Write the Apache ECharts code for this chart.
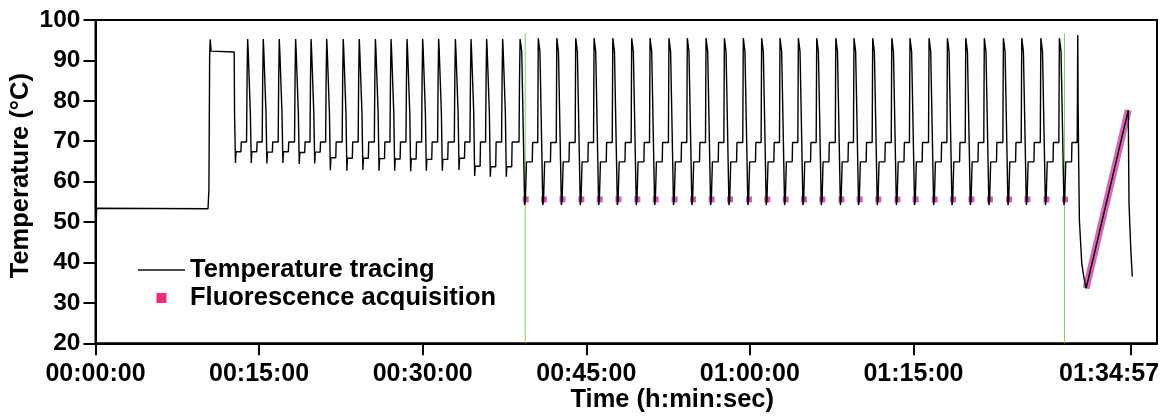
<!DOCTYPE html>
<html>
<head>
<meta charset="utf-8">
<script src="https://cdn.jsdelivr.net/npm/echarts@6/dist/echarts.min.js"></script>
<style>
  html, body { margin: 0; padding: 0; background: #fff; }
  #chart { width: 1166px; height: 416px; }
</style>
</head>
<body>
<div id="chart"></div>
<script>
// Thermal cycler run: block temperature trace with the fluorescence read points.
// Times are seconds from the start of the run, temperatures in °C.

const FONT = '"Liberation Sans", Arial, Helvetica, sans-serif';

// x-axis tick positions (s): every 15 min plus the end of the run
const xTickSeconds = [0, 900, 1800, 2700, 3600, 4500, 5697];

// Initial 53 °C hold, then the 92 °C activation step
const holdTimes = [0, 3, 6, 619, 624, 628, 631, 636, 763];
const holdTemps = [55.6, 47.5, 53.4, 53.3, 58, 91, 95.2, 92.3, 92.1];

// Stage 1 (touchdown), 18 cycles: denaturation peak time, undershoot, annealing plateau
const touchdownPeaks = [837, 923, 1011, 1101, 1186, 1272, 1363, 1451, 1540, 1626, 1714, 1800, 1888, 1980, 2066, 2152, 2240, 2336];
const touchdownMin = [64.6, 64.6, 64.5, 64.6, 64.4, 64.5, 62.8, 62.7, 62.9, 62.7, 62.7, 62.6, 62.7, 62.7, 62.9, 61.4, 61.2, 61.2];
const touchdownAnneal = [67.4, 67.4, 67.3, 67.4, 67.2, 67.3, 65.9, 65.8, 65.8, 65.7, 65.6, 65.6, 65.5, 65.5, 65.8, 63.8, 63.7, 63.7];

// Stage 2, 30 cycles: denaturation peak time and peak temperature
const cyclePeaks = [2436, 2538, 2642, 2743, 2846, 2950, 3051, 3155, 3256, 3359, 3460, 3564, 3665, 3766, 3867, 3968, 4073, 4173, 4276, 4381, 4481, 4586, 4687, 4788, 4890, 4995, 5096, 5201, 5303, 5404];
const cyclePeakTemps = [95.5, 95.5, 95.5, 95.5, 95.5, 95.5, 95.5, 95.5, 95.5, 95.5, 95.5, 95.5, 95.5, 95.5, 95.5, 95.5, 95.5, 95.5, 95.5, 95.5, 95.5, 95.5, 95.5, 95.5, 95.5, 95.5, 95.5, 95.5, 95.5, 96.3];

// Fluorescence reads at the end of each 55 °C annealing step
const readTimes = [2367, 2467, 2569, 2673, 2774, 2877, 2981, 3082, 3186, 3287, 3390, 3491, 3595, 3696, 3797, 3898, 3999, 4104, 4204, 4307, 4412, 4512, 4617, 4718, 4819, 4921, 5026, 5127, 5232, 5334];
const readTemps = [55.6, 55.6, 55.6, 55.6, 55.6, 55.6, 55.6, 55.6, 55.6, 55.6, 55.6, 55.6, 55.6, 55.6, 55.6, 55.6, 55.6, 55.6, 55.6, 55.6, 55.6, 55.6, 55.6, 55.6, 55.6, 55.6, 55.6, 55.6, 55.6, 55.6];

// Cool-down, melt ramp and final cool-down
const meltTimes = [5406, 5409, 5413, 5426, 5439, 5450, 5682, 5684, 5686, 5696, 5704];
const meltTemps = [79.4, 65.0, 50.5, 39.8, 36.0, 33.6, 77.7, 65.0, 54.6, 43.0, 36.5];
// Continuous acquisition along the melt ramp
const meltReadTimes = [5450, 5682];
const meltReadTemps = [33.6, 77.7];

// Start and end of the acquisition window
const windowTimes = [2364, 5331];
const windowTemps = [20, 96.7];

// ---- assemble the temperature trace ----
const trace = [];
function add(t, v) {
  if (!trace.length || t > trace[trace.length - 1][0]) trace.push([t, v]);
}
holdTimes.forEach((t, i) => add(t, holdTemps[i]));

touchdownPeaks.forEach((p, i) => {
  const a = touchdownAnneal[i];
  const drop = i === 0 ? holdTimes[holdTimes.length - 1] : touchdownPeaks[i - 1] + 13;
  if (i > 0) add(touchdownPeaks[i - 1] + 3, 92.4);
  add(drop, 92.0);
  add(drop + 2, 77);
  add(drop + 7, touchdownMin[i]);
  add(drop + 10, a);
  add(drop + 37, a);
  add(drop + 39, 69.8);
  add(p - 6, 69.8);
  add(p - 3, 86);
  add(p, 95.3);
});

cyclePeaks.forEach((p, j) => {
  const pp = j === 0 ? touchdownPeaks[touchdownPeaks.length - 1] : cyclePeaks[j - 1];
  add(pp + 9, 92.2);
  add(pp + 14, 80.6);
  add(pp + 25, 54.2);
  add(pp + 29, 55.3);
  add(pp + 33, 55.3);
  add(pp + 35, 64.9);
  add(pp + 67, 64.9);
  add(pp + 69, 69.7);
  add(p - 3, 69.7);
  add(p - 1, 88);
  add(p, cyclePeakTemps[j]);
});

meltTimes.forEach((t, i) => add(t, meltTemps[i]));

const reads = readTimes.map((t, i) => [t, readTemps[i]]);
const meltReads = meltReadTimes.map((t, i) => [t, meltReadTemps[i]]);

function hms(s) {
  const h = Math.floor(s / 3600), m = Math.floor((s % 3600) / 60), sec = Math.round(s % 60);
  return [h, m, sec].map(n => String(n).padStart(2, '0')).join(':');
}

const PINK = '#d24aa8';
// Legend glyphs: a thin rule for the trace and a square centred in the 47 px slot
// (the two hairline corner specks only fix the glyph's bounding box).
const LINE_ICON = 'path://M0 0H47V1.5H0Z';
const SQUARE_ICON = 'path://M0 0h0.01v0.01h-0.01zM46.99 9.99h0.01v0.01h-0.01zM18.5 0h10v10h-10z';

const chart = echarts.init(document.getElementById('chart'), null, { renderer: 'canvas' });

chart.setOption({
  animation: false,
  backgroundColor: '#fff',
  grid: {
    left: 95.5, right: 9, top: 20, bottom: 72.7,
    show: true, borderColor: '#000', borderWidth: 2,
    containLabel: false, outerBoundsMode: 'none'
  },
  legend: {
    orient: 'vertical',
    left: 133, top: 251,
    itemWidth: 47, itemHeight: 10, itemGap: 0,
    selectedMode: false,
    textStyle: { fontFamily: FONT, fontSize: 25.5, fontWeight: 'bold', color: '#000', lineHeight: 28 },
    data: [
      { name: 'Temperature tracing', icon: LINE_ICON, itemStyle: { color: '#111' } },
      { name: 'Fluorescence acquisition', icon: SQUARE_ICON, itemStyle: { color: '#ee2a7b', opacity: 1 } }
    ]
  },
  xAxis: {
    type: 'value',
    min: 0, max: 5840,
    name: 'Time (h:min:sec)',
    nameLocation: 'middle',
    nameGap: 44,
    nameMoveOverlap: false,
    nameTextStyle: { fontFamily: FONT, fontSize: 25.5, fontWeight: 'bold', color: '#000', padding: [0, 0, 0, 92] },
    splitLine: { show: false },
    axisLine: { lineStyle: { color: '#000', width: 2 } },
    axisTick: { customValues: xTickSeconds, length: 12, lineStyle: { color: '#000', width: 2 } },
    axisLabel: {
      customValues: xTickSeconds,
      margin: 18,
      fontFamily: FONT, fontSize: 25, fontWeight: 'bold', color: '#000',
      formatter: v => (v === xTickSeconds[xTickSeconds.length - 1] ? '{last|' + hms(v) + '}' : hms(v)),
      rich: {
        last: { fontFamily: FONT, fontSize: 25, fontWeight: 'bold', color: '#000', padding: [0, 44, 0, 0] }
      }
    }
  },
  yAxis: {
    type: 'value',
    min: 20, max: 100, interval: 10,
    name: 'Temperature (°C)',
    nameLocation: 'middle',
    nameGap: 62,
    nameMoveOverlap: false,
    nameTextStyle: { fontFamily: FONT, fontSize: 25.5, fontWeight: 'bold', color: '#000', padding: [0, 0, 0, 12] },
    splitLine: { show: false },
    axisLine: { show: true, lineStyle: { color: '#000', width: 2 } },
    axisTick: { show: true, length: 12, lineStyle: { color: '#000', width: 2 } },
    axisLabel: { margin: 15, fontFamily: FONT, fontSize: 24.5, fontWeight: 'bold', color: '#000' }
  },
  series: [
    {
      name: 'window start', type: 'line', symbol: 'none', silent: true,
      lineStyle: { color: '#7fd357', width: 1 },
      data: [[windowTimes[0], windowTemps[0]], [windowTimes[0], windowTemps[1]]]
    },
    {
      name: 'window end', type: 'line', symbol: 'none', silent: true,
      lineStyle: { color: '#7fd357', width: 1 },
      data: [[windowTimes[1], windowTemps[0]], [windowTimes[1], windowTemps[1]]]
    },
    {
      name: 'Fluorescence acquisition', type: 'line', symbol: 'none', silent: true,
      lineStyle: { color: PINK, width: 7, opacity: 0.85 },
      itemStyle: { color: '#ee2a7b' },
      data: meltReads
    },
    {
      name: 'Fluorescence acquisition', type: 'scatter', symbol: 'rect', symbolSize: 6, silent: true,
      itemStyle: { color: PINK, opacity: 0.9 },
      data: reads
    },
    {
      name: 'Temperature tracing', type: 'line', symbol: 'none', showSymbol: false, silent: true,
      sampling: null,
      lineStyle: { color: '#000', width: 1.4 },
      itemStyle: { color: '#000' },
      data: trace
    }
  ]
});
</script>
</body>
</html>
